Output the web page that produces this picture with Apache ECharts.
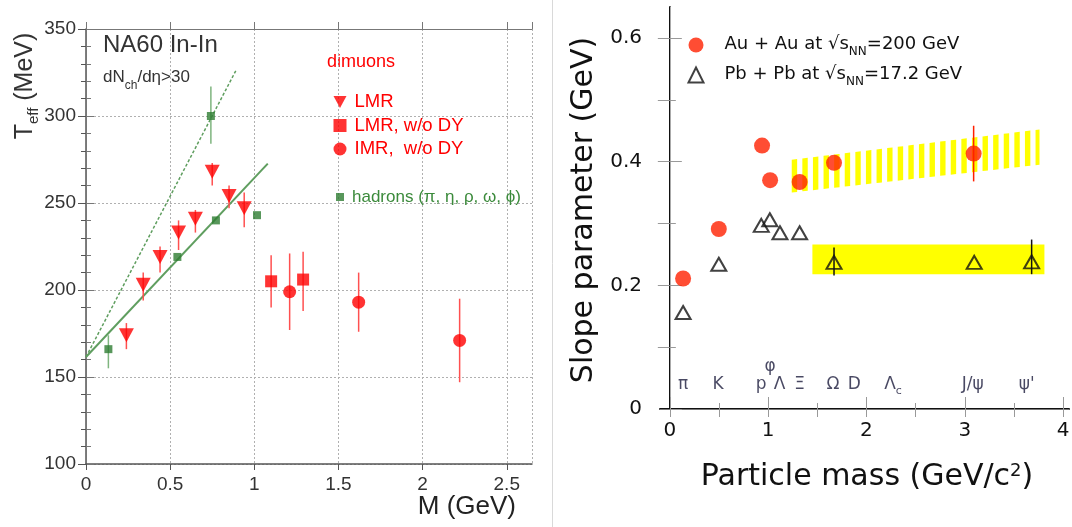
<!DOCTYPE html>
<html>
<head>
<meta charset="utf-8">
<script src="https://cdn.jsdelivr.net/npm/echarts@6.0.0/dist/echarts.min.js"></script>
<style>
html,body{margin:0;padding:0;background:#ffffff;}
#chart{width:1072px;height:527px;}
</style>
</head>
<body>
<div id="chart"></div>
<script>
// ================= Left panel: NA60 In-In, T_eff vs M =================
const leftXTicks = [0, 0.5, 1, 1.5, 2, 2.5];
const leftYTicks = [100, 150, 200, 250, 300, 350];

// dimuons, LMR (down triangles)
const lmrMass = [0.24, 0.34, 0.44, 0.55, 0.65, 0.75, 0.85, 0.94];
const lmrTeff = [174, 203, 219, 233, 241, 268, 254, 247];
const lmrLow  = [166, 194, 210, 223, 233, 260, 247, 236];
const lmrHigh = [181, 210, 225, 240, 246, 273, 260, 256];

// dimuons, LMR w/o DY (squares)
const lmrNoDyMass = [1.10, 1.29];
const lmrNoDyTeff = [205, 206];
const lmrNoDyLow  = [190, 188];
const lmrNoDyHigh = [220, 222];

// dimuons, IMR w/o DY (circles)
const imrMass = [1.21, 1.62, 2.22];
const imrTeff = [199, 193, 171];
const imrLow  = [177, 176, 147];
const imrHigh = [221, 210, 195];

// hadrons (pi, eta, rho, omega, phi)
const hadMass = [0.133, 0.543, 0.742, 0.772, 1.016];
const hadTeff = [166, 219, 300, 240, 243];
const hadLow  = [155, null, 284, null, null];
const hadHigh = [174, null, 317, null, null];

// fit lines
const fitSolidMass = [0, 1.08];
const fitSolidTeff = [161.5, 272.6];
const fitDashMass  = [0, 0.89];
const fitDashTeff  = [161.5, 326];

// ================= Right panel: slope parameter vs particle mass =================
const rightXTicks = [0, 1, 2, 3, 4];
const rightXMinorTicks = [0.5, 1.5, 2.5, 3.5];
const rightXTopTicks = [0, 0.5, 1, 1.5, 2, 2.5, 3, 3.5, 4];
const rightYTicks = [0, 0.2, 0.4, 0.6];
const rightYMinorTicks = [0.1, 0.3, 0.5];
const rightYRightTicks = [0.1, 0.2, 0.3, 0.4, 0.5, 0.6];

const auMass  = [0.135, 0.498, 0.938, 1.02, 1.32, 1.67, 3.09];
const auSlope = [0.211, 0.291, 0.426, 0.370, 0.367, 0.398, 0.413];
const auErrMass = [3.09];
const auErrLow  = [0.368];
const auErrHigh = [0.458];

const pbMass  = [0.135, 0.498, 0.93, 1.017, 1.12, 1.32, 1.67, 3.096, 3.68];
const pbSlope = [0.156, 0.234, 0.297, 0.306, 0.285, 0.285, 0.237, 0.237, 0.238];
const pbErrMass = [1.67, 3.68];
const pbErrLow  = [0.216, 0.218];
const pbErrHigh = [0.261, 0.274];

// systematic bands
const auBandMass = [1.24, 3.76];
const auBandLow  = [0.350, 0.395];
const auBandHigh = [0.403, 0.452];
const pbBandMass = [1.45, 3.81];
const pbBandLow  = [0.218, 0.218];
const pbBandHigh = [0.266, 0.266];

// particle labels along the bottom of the plot
const particleNames = ['π', 'K', 'p', 'Λ', 'Ξ', 'φ', 'Ω', 'D', 'Λc', 'J/ψ', "ψ'"];
const particleMass  = [0.135, 0.49, 0.93, 1.115, 1.32, 1.02, 1.66, 1.875, 2.27, 3.08, 3.63];
const particleLabelY = [0.039, 0.039, 0.039, 0.039, 0.039, 0.068, 0.039, 0.039, 0.039, 0.039, 0.039];

const AU_NAME = 'Au + Au at √sNN=200 GeV';
const PB_NAME = 'Pb + Pb at √sNN=17.2 GeV';

// ================= helpers =================
const LS = 'Liberation Sans, Arial, sans-serif';
const DJ = 'DejaVu Sans, sans-serif';

function pairs(xs, ys) { return xs.map((x, i) => [x, ys[i]]); }

function errorBars(xs, lo, hi, color, width, xi, yi) {
  const data = [];
  xs.forEach((x, i) => { if (lo[i] != null) data.push([x, lo[i], hi[i]]); });
  return {
    type: 'custom', xAxisIndex: xi, yAxisIndex: yi, z: 3, silent: true,
    encode: { x: 0, y: [1, 2] },
    data: data,
    renderItem: function (params, api) {
      const a = api.coord([api.value(0), api.value(1)]);
      const b = api.coord([api.value(0), api.value(2)]);
      return { type: 'line', shape: { x1: a[0], y1: a[1], x2: b[0], y2: b[1] },
               style: { stroke: color, lineWidth: width } };
    }
  };
}

function band(xs, lo, hi, hatched, xi, yi) {
  return {
    type: 'custom', xAxisIndex: xi, yAxisIndex: yi, z: 1, silent: true,
    encode: { x: [0, 1], y: [2, 3, 4, 5] },
    data: [[xs[0], xs[1], lo[0], lo[1], hi[0], hi[1]]],
    renderItem: function (params, api) {
      const xa = api.value(0), xb = api.value(1);
      const loA = api.coord([xa, api.value(2)]), loB = api.coord([xb, api.value(3)]);
      const hiA = api.coord([xa, api.value(4)]), hiB = api.coord([xb, api.value(5)]);
      const fill = '#ffff00';
      if (!hatched) {
        return { type: 'polygon', shape: { points: [hiA, hiB, loB, loA] }, style: { fill: fill } };
      }
      const L = loA[0], R = loB[0];
      const yAt = (pa, pb, x) => pa[1] + (pb[1] - pa[1]) * (x - L) / (R - L);
      const period = 10.6, w = 5.4;
      const children = [];
      for (let s = L; s < R - 1; s += period) {
        const e = Math.min(s + w, R);
        children.push({ type: 'polygon', shape: { points: [
          [s, yAt(hiA, hiB, s)], [e, yAt(hiA, hiB, e)], [e, yAt(loA, loB, e)], [s, yAt(loA, loB, s)]
        ] }, style: { fill: fill } });
      }
      return { type: 'group', children: children };
    }
  };
}

// ================= chart =================
const chart = echarts.init(document.getElementById('chart'), null, { renderer: 'canvas' });

const leftAxisLine = { show: true, lineStyle: { color: '#555', width: 1.5 } };
const leftGridLine = { show: true, lineStyle: { color: '#b0b0b0', width: 1, type: [2, 2] } };
const rightTick = (len) => ({ show: true, inside: true, length: len, lineStyle: { color: '#999', width: 1 } });

const option = {
  animation: false,
  backgroundColor: '#ffffff',
  grid: [
    { left: 86, top: 29, width: 446, height: 435, containLabel: false, outerBoundsMode: 'none' },
    { left: 660, top: 7, width: 409, height: 402, containLabel: false, outerBoundsMode: 'none' }
  ],
  xAxis: [
    { // 0 left bottom
      gridIndex: 0, type: 'value', position: 'bottom', min: leftXTicks[0], max: 2.65, interval: 0.5,
      axisLine: leftAxisLine,
      axisTick: { show: true, inside: false, length: 6, lineStyle: { color: '#555' } },
      axisLabel: { show: true, fontSize: 19, color: '#333', fontFamily: LS, margin: 11, showMaxLabel: false },
      splitLine: leftGridLine
    },
    { // 1 left top
      gridIndex: 0, type: 'value', position: 'top', min: leftXTicks[0], max: 2.65, interval: 0.5,
      axisLine: { show: true, lineStyle: { color: '#777', width: 1 } },
      axisTick: { show: true, inside: false, length: 7, lineStyle: { color: '#777' } },
      axisLabel: { show: false }, splitLine: { show: false }
    },
    { // 2 right bottom (major ticks + labels)
      gridIndex: 1, type: 'value', position: 'bottom', min: -0.1, max: 4.06,
      axisLine: { show: true, lineStyle: { color: '#111', width: 2 } },
      axisTick: Object.assign(rightTick(12), { customValues: rightXTicks }),
      axisLabel: { show: true, customValues: rightXTicks, fontSize: 20, color: '#111', fontFamily: DJ, margin: 12 },
      splitLine: { show: false }
    },
    { // 3 right bottom minor ticks
      gridIndex: 1, type: 'value', position: 'bottom', min: -0.1, max: 4.06,
      axisLine: { show: false },
      axisTick: Object.assign(rightTick(6), { customValues: rightXMinorTicks }),
      axisLabel: { show: false }, splitLine: { show: false }
    },
    { // 4 right top
      gridIndex: 1, type: 'value', position: 'top', min: -0.1, max: 4.06,
      axisLine: { show: true, lineStyle: { color: '#777', width: 1 } },
      axisTick: Object.assign(rightTick(8), { customValues: rightXTopTicks }),
      axisLabel: { show: false }, splitLine: { show: false }
    }
  ],
  yAxis: [
    { // 0 left left
      gridIndex: 0, type: 'value', position: 'left', min: leftYTicks[0], max: 350, interval: 50,
      axisLine: leftAxisLine,
      axisTick: { show: true, inside: false, length: 8, lineStyle: { color: '#555' } },
      minorTick: { show: true, splitNumber: 5, length: 5, lineStyle: { color: '#555' } },
      axisLabel: { show: true, fontSize: 19, color: '#333', fontFamily: LS, margin: 10 },
      splitLine: leftGridLine
    },
    { // 1 left right
      gridIndex: 0, type: 'value', position: 'right', min: leftYTicks[0], max: 350, interval: 50,
      axisLine: { show: true, lineStyle: { color: '#777', width: 1 } },
      axisTick: { show: true, inside: false, length: 8, lineStyle: { color: '#777' } },
      minorTick: { show: true, splitNumber: 5, length: 5, lineStyle: { color: '#777' } },
      axisLabel: { show: false }, splitLine: { show: false }
    },
    { // 2 right left (major)
      gridIndex: 1, type: 'value', position: 'left', min: rightYTicks[0], max: 0.65,
      axisLine: { show: true, lineStyle: { color: '#111', width: 2 } },
      axisTick: Object.assign(rightTick(12), { customValues: rightYTicks }),
      axisLabel: { show: true, customValues: rightYTicks, fontSize: 20, color: '#111', fontFamily: DJ, margin: 18 },
      splitLine: { show: false }
    },
    { // 3 right left minor
      gridIndex: 1, type: 'value', position: 'left', min: rightYTicks[0], max: 0.65,
      axisLine: { show: false },
      axisTick: Object.assign(rightTick(6), { customValues: rightYMinorTicks }),
      axisLabel: { show: false }, splitLine: { show: false }
    },
    { // 4 right right
      gridIndex: 1, type: 'value', position: 'right', min: rightYTicks[0], max: 0.65,
      axisLine: { show: true, lineStyle: { color: '#aaa', width: 1 } },
      axisTick: Object.assign(rightTick(12), { customValues: rightYRightTicks }),
      axisLabel: { show: false }, splitLine: { show: false }
    }
  ],
  legend: [
    {
      data: [
        { name: 'LMR', icon: 'path://M0,0L14,0L7,13Z' },
        { name: 'LMR, w/o DY', icon: 'rect' },
        { name: 'IMR,  w/o DY', icon: 'circle' }
      ],
      orient: 'vertical', left: 328.5, top: 87.5, itemWidth: 13, itemHeight: 13, itemGap: 4.5,
      selectedMode: false,
      textStyle: { color: '#ff0000', fontSize: 18.5, fontFamily: LS, lineHeight: 19, padding: [0, 0, 0, 3] }
    },
    {
      data: [{ name: 'hadrons (π, η, ρ, ω, ϕ)', icon: 'rect' }],
      orient: 'vertical', left: 331, top: 183, itemWidth: 8, itemHeight: 8,
      selectedMode: false,
      textStyle: { color: '#3b8a3b', fontSize: 17, fontFamily: LS, lineHeight: 18, padding: [0, 0, 0, 3] }
    },
    {
      data: [{ name: AU_NAME, icon: 'circle' }, { name: PB_NAME, icon: 'triangle' }],
      orient: 'vertical', left: 682.5, top: 30, itemWidth: 15, itemHeight: 15, itemGap: 7,
      selectedMode: false,
      formatter: function (name) {
        const parts = name.split('NN');
        return '{t|' + parts[0] + '}{s|NN}{t|' + parts[1] + '}';
      },
      textStyle: {
        padding: [0, 0, 0, 16],
        rich: {
          t: { fontSize: 18, fontFamily: DJ, color: '#111', lineHeight: 20, verticalAlign: 'top' },
          s: { fontSize: 12, fontFamily: DJ, color: '#111', lineHeight: 12, padding: [11, 0, 0, 0], verticalAlign: 'top' }
        }
      }
    }
  ],
  graphic: [
    { type: 'line', shape: { x1: 552.5, y1: 0, x2: 552.5, y2: 527 }, style: { stroke: '#d9d9d9', lineWidth: 1 }, silent: true },
    { type: 'text', x: 103, y: 45, silent: true,
      style: { text: 'NA60 In-In', fontSize: 24, fontFamily: LS, fill: '#333', verticalAlign: 'middle', align: 'left' } },
    { type: 'text', x: 103, y: 79, silent: true,
      style: { text: '{a|dN}{b|ch}{a|/dη>30}', verticalAlign: 'middle', align: 'left',
        rich: {
          a: { fontSize: 17, fontFamily: LS, fill: '#333', color: '#333', lineHeight: 20, verticalAlign: 'top' },
          b: { fontSize: 12, fontFamily: LS, fill: '#333', color: '#333', lineHeight: 12, padding: [11, 0, 0, 0], verticalAlign: 'top' }
        } } },
    { type: 'text', x: 327, y: 62, silent: true,
      style: { text: 'dimuons', fontSize: 18, fontFamily: LS, fill: '#ff0000', verticalAlign: 'middle', align: 'left' } },
    { type: 'text', x: 516, y: 507, silent: true,
      style: { text: 'M (GeV)', fontSize: 26, fontFamily: LS, fill: '#222', verticalAlign: 'middle', align: 'right' } },
    { type: 'text', x: 26, y: 86, rotation: Math.PI / 2, silent: true,
      style: { text: '{a|T}{b|eff}{a| (MeV)}', align: 'center', verticalAlign: 'middle',
        rich: {
          a: { fontSize: 25, fontFamily: LS, fill: '#333', color: '#333', lineHeight: 27, verticalAlign: 'top' },
          b: { fontSize: 15, fontFamily: LS, fill: '#333', color: '#333', lineHeight: 15, padding: [14, 0, 0, 0], verticalAlign: 'top' }
        } } },
    { type: 'text', x: 584, y: 210, rotation: Math.PI / 2, silent: true,
      style: { text: 'Slope parameter (GeV)', fontSize: 30, fontFamily: DJ, fill: '#111', align: 'center', verticalAlign: 'middle' } },
    { type: 'text', x: 867, y: 478, silent: true,
      style: { text: '{a|Particle mass (GeV/c}{b|2}{a|)}', align: 'center', verticalAlign: 'middle',
        rich: {
          a: { fontSize: 30, fontFamily: DJ, fill: '#111', color: '#111', lineHeight: 32, verticalAlign: 'top' },
          b: { fontSize: 18, fontFamily: DJ, fill: '#111', color: '#111', lineHeight: 18, verticalAlign: 'top' }
        } } }
  ],
  series: [
    // ----- left panel -----
    { type: 'line', name: 'fit solid', xAxisIndex: 0, yAxisIndex: 0, data: pairs(fitSolidMass, fitSolidTeff),
      symbol: 'none', silent: true, z: 2, lineStyle: { color: '#5f9e5f', width: 2 } },
    { type: 'line', name: 'fit dashed', xAxisIndex: 0, yAxisIndex: 0, data: pairs(fitDashMass, fitDashTeff),
      symbol: 'none', silent: true, z: 2, lineStyle: { color: '#5f9e5f', width: 1.5, type: [3, 2] } },
    errorBars(lmrMass, lmrLow, lmrHigh, '#ff5050', 1.5, 0, 0),
    errorBars(lmrNoDyMass, lmrNoDyLow, lmrNoDyHigh, '#ff5050', 1.5, 0, 0),
    errorBars(imrMass, imrLow, imrHigh, '#ff5050', 1.5, 0, 0),
    errorBars(hadMass, hadLow, hadHigh, '#7fb57f', 1.5, 0, 0),
    { type: 'scatter', name: 'LMR', xAxisIndex: 0, yAxisIndex: 0, data: pairs(lmrMass, lmrTeff), z: 5, silent: true,
      symbol: 'triangle', symbolRotate: 180, symbolSize: [15, 14], itemStyle: { color: '#ff0000' } },
    { type: 'scatter', name: 'LMR, w/o DY', xAxisIndex: 0, yAxisIndex: 0, data: pairs(lmrNoDyMass, lmrNoDyTeff), z: 5, silent: true,
      symbol: 'rect', symbolSize: 12, itemStyle: { color: '#ff0000' } },
    { type: 'scatter', name: 'IMR,  w/o DY', xAxisIndex: 0, yAxisIndex: 0, data: pairs(imrMass, imrTeff), z: 5, silent: true,
      symbol: 'circle', symbolSize: 13, itemStyle: { color: '#ff0000' } },
    { type: 'scatter', name: 'hadrons (π, η, ρ, ω, ϕ)', xAxisIndex: 0, yAxisIndex: 0, data: pairs(hadMass, hadTeff), z: 5, silent: true,
      symbol: 'rect', symbolSize: 8, itemStyle: { color: '#2e7d32' } },
    // ----- right panel -----
    band(auBandMass, auBandLow, auBandHigh, true, 2, 2),
    band(pbBandMass, pbBandLow, pbBandHigh, false, 2, 2),
    errorBars(auErrMass, auErrLow, auErrHigh, '#ff2000', 1.5, 2, 2),
    errorBars(pbErrMass, pbErrLow, pbErrHigh, '#111111', 1.5, 2, 2),
    { type: 'scatter', name: AU_NAME, xAxisIndex: 2, yAxisIndex: 2, data: pairs(auMass, auSlope), z: 5, silent: true,
      symbol: 'circle', symbolSize: 16, itemStyle: { color: '#ff2000' } },
    { type: 'scatter', name: PB_NAME, xAxisIndex: 2, yAxisIndex: 2, data: pairs(pbMass, pbSlope), z: 5, silent: true,
      symbol: 'triangle', symbolSize: [15, 13], itemStyle: { color: 'rgba(255,255,255,0)', borderColor: '#111', borderWidth: 2 } },
    { type: 'scatter', name: 'particles', xAxisIndex: 2, yAxisIndex: 2, z: 4, silent: true,
      data: particleNames.map((n, i) => ({ name: n, value: [particleMass[i], particleLabelY[i]] })),
      symbolSize: 1, itemStyle: { color: 'rgba(0,0,0,0)' },
      label: { show: true, position: 'inside',
        formatter: function (p) { return p.name === 'Λc' ? '{m|Λ}{s|c}' : '{m|' + p.name + '}'; },
        rich: {
          m: { fontSize: 17, fontFamily: DJ, color: '#1c1c3c', lineHeight: 18, verticalAlign: 'top' },
          s: { fontSize: 11, fontFamily: DJ, color: '#1c1c3c', lineHeight: 11, padding: [10, 0, 0, 0], verticalAlign: 'top' }
        } } }
  ]
};

chart.setOption(option);
</script>
</body>
</html>
